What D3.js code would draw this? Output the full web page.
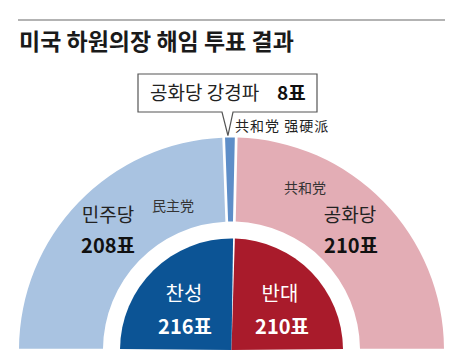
<!DOCTYPE html>
<html>
<head>
<meta charset="utf-8">
<title>미국 하원의장 해임 투표 결과</title>
<script src="https://d3js.org/d3.v7.min.js"></script>
<style>
  body { margin: 0; background: #fff; }
  text { font-family: "Noto Sans CJK KR", "Noto Sans", sans-serif; }
</style>
</head>
<body>
<svg id="chart"></svg>
<script>
// outer ring: party seats
let outerParties = ['민주당', '공화당 강경파', '공화당'];
let outerVotes = [208, 8, 210];
let outerColors = ['#a9c3e1', '#5e8ec8', '#e3adb5'];

// inner half-disc: vote result
let innerLabels = ['찬성', '반대'];
let innerVotes = [216, 210];
let innerColors = ['#0c5495', '#a91b2b'];

let config = { width: 460, height: 358 };
let cx = 231.5, cy = 350;

let svg = d3.select('#chart')
  .attr('width', config.width)
  .attr('height', config.height);

// title + rule
svg.append('line')
  .attr('x1', 18).attr('x2', 445)
  .attr('y1', 20).attr('y2', 20)
  .attr('stroke', '#9a9a9a')
  .attr('stroke-width', 1.5);

svg.append('text')
  .attr('x', 19).attr('y', 50)
  .attr('font-size', 23)
  .attr('font-weight', 'bold')
  .attr('fill', '#1a1a1a')
  .text('미국 하원의장 해임 투표 결과');

let plot = svg.append('g').attr('transform', translate(cx, cy));

let pie = d3.pie().sort(null)
  .startAngle(-Math.PI / 2)
  .endAngle(Math.PI / 2);

let outerArc = d3.arc().innerRadius(128.5).outerRadius(212.5).padAngle(0.011);
let innerArc = d3.arc().innerRadius(0).outerRadius(111.5).padAngle(0.016);

let outerData = pie(outerVotes);
let innerData = pie(innerVotes);

plot.selectAll('path.outer')
  .data(outerData)
  .join('path')
  .attr('class', 'outer')
  .attr('d', outerArc)
  .attr('fill', (d, i) => outerColors[i]);

plot.selectAll('path.inner')
  .data(innerData)
  .join('path')
  .attr('class', 'inner')
  .attr('d', innerArc)
  .attr('fill', (d, i) => innerColors[i]);

// party labels on the ring
function label(g, x, y, size, weight, fill, txt) {
  g.append('text')
    .attr('x', x).attr('y', y)
    .attr('text-anchor', 'middle')
    .attr('font-size', size)
    .attr('font-weight', weight)
    .attr('fill', fill)
    .text(txt);
}

label(svg, 108, 222, 19, 'normal', '#222', outerParties[0]);
label(svg, 108, 253, 20, 'bold', '#111', outerVotes[0] + '표');
label(svg, 350, 222, 19, 'normal', '#222', outerParties[2]);
label(svg, 351, 253, 20, 'bold', '#111', outerVotes[2] + '표');

label(svg, 173, 211, 14, 'normal', '#333', '民主党');
label(svg, 305, 193, 14, 'normal', '#333', '共和党');

label(svg, 184, 301, 20, 'normal', '#fff', innerLabels[0]);
label(svg, 185, 334, 20, 'bold', '#fff', innerVotes[0] + '표');
label(svg, 280, 301, 20, 'normal', '#fff', innerLabels[1]);
label(svg, 282, 334, 20, 'bold', '#fff', innerVotes[1] + '표');

// callout for the hardliners
let hard = outerData[1];
let mid = (hard.startAngle + hard.endAngle) / 2;
let tipX = cx + 212.5 * Math.sin(mid) - 2;
let tipY = cy - 212.5 * Math.cos(mid) - 2;

let box = { x0: 138, x1: 317, y0: 74, y1: 112 };
let gapL = 222, gapR = 233;
svg.append('path')
  .attr('d', 'M' + gapL + ',' + box.y1 + 'H' + box.x0 + 'V' + box.y0 + 'H' + box.x1 +
    'V' + box.y1 + 'H' + gapR + 'L' + tipX + ',' + tipY + 'Z')
  .attr('fill', '#fff')
  .attr('stroke', '#555')
  .attr('stroke-width', 1.2)
  .attr('stroke-linejoin', 'miter');

svg.append('text')
  .attr('x', 150).attr('y', 100)
  .attr('font-size', 19)
  .attr('fill', '#222')
  .text(outerParties[1]);

svg.append('text')
  .attr('x', 277).attr('y', 100)
  .attr('font-size', 19)
  .attr('font-weight', 'bold')
  .attr('fill', '#111')
  .text(outerVotes[1] + '표');

svg.append('text')
  .attr('x', 235).attr('y', 131)
  .attr('font-size', 14)
  .attr('letter-spacing', 1)
  .attr('fill', '#222')
  .style('font-family', '"Noto Sans CJK SC", sans-serif')
  .text('共和党 强硬派');

function translate(x, y) {
  return 'translate(' + x + ',' + y + ')';
}
</script>
</body>
</html>
